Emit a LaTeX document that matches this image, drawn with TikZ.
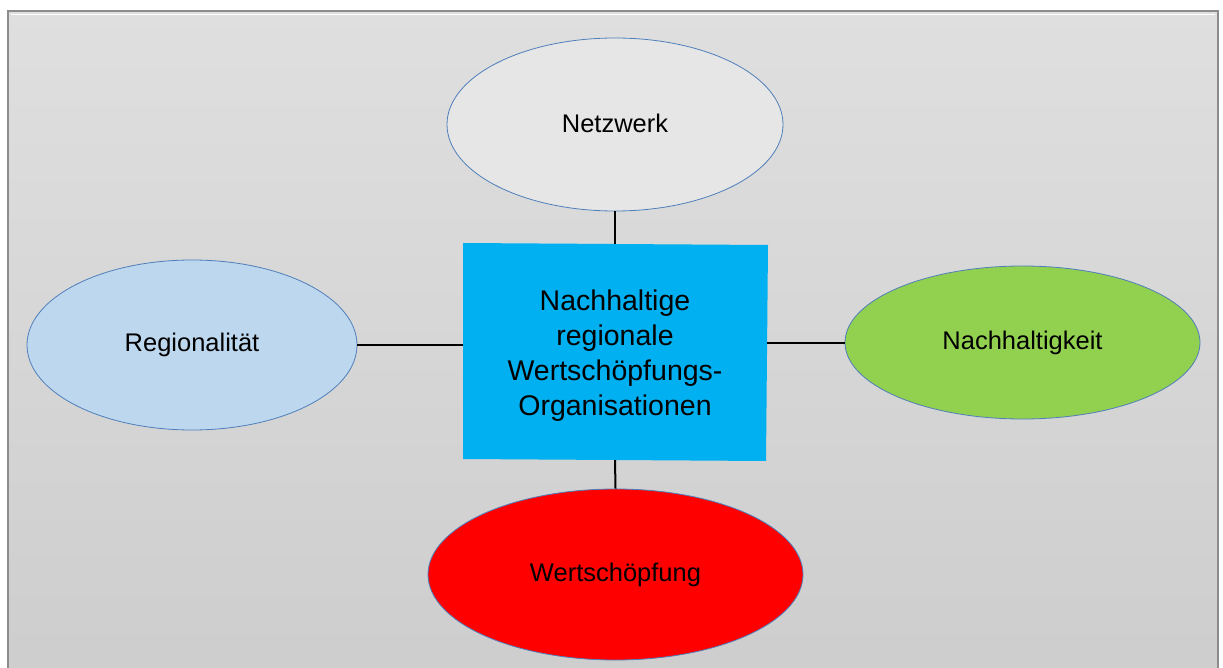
\documentclass[tikz,border=0pt]{standalone}
\usepackage{fontspec}
\setmainfont{Liberation Sans}
\usetikzlibrary{shapes.geometric}
\definecolor{frameline}{HTML}{8C8C8C}
\definecolor{bgtop}{HTML}{DFDFDF}
\definecolor{bgbottom}{HTML}{CDCDCD}
\definecolor{ellline}{HTML}{4F7FBA}
\definecolor{grayfill}{HTML}{E6E6E6}
\definecolor{bluefill}{HTML}{BDD7EE}
\definecolor{greenfill}{HTML}{92D050}
\definecolor{redfill}{HTML}{FF0000}
\definecolor{centerfill}{HTML}{00B0F0}
\tikzset{
  topic/.style={ellipse, draw=ellline, line width=0.8pt, inner sep=0pt,
    font=\fontsize{25.5}{30}\selectfont, text=black},
  link/.style={draw=black, line width=2pt},
}
\begin{document}
\begin{tikzpicture}[x=1pt,y=-1pt]
\useasboundingbox (0,0) rectangle (1223,668);
% panel background with frame
\fill[white] (0,0) rectangle (1223,668);
\shade[top color=bgtop, bottom color=bgbottom] (8,11) rectangle (1218,690);
\draw[frameline, line width=2pt] (8,690) -- (8,11) -- (1218,11) -- (1218,690);
\draw[white, line width=1.5pt] (11,14.5) -- (1215,14.5);

% centre block
\fill[centerfill] (463,243) -- (768,245) -- (766,461) -- (463,459) -- cycle;
\node[minimum width=303pt, minimum height=216pt, inner sep=0pt] (center) at (615,352) {};
\node[align=center, font=\fontsize{28.5}{35}\selectfont, inner sep=0pt]
  (centertext) at (615,356) {Nachhaltige\\regionale\\Wertschöpfungs-\\Organisationen};

% surrounding topics
\node[topic, fill=grayfill, minimum width=336pt, minimum height=173pt, text depth=0pt] (netz) at (615,124.5) {\raisebox{2pt}{Netzwerk}};
\node[topic, fill=bluefill, minimum width=330pt, minimum height=170pt] (reg) at (192,345) {\raisebox{-2pt}{Regionalität}};
\node[topic, fill=greenfill, minimum width=355pt, minimum height=153pt] (nach) at (1022.5,342.5) {\raisebox{-2pt}{Nachhaltigkeit}};
\node[topic, fill=redfill, minimum width=375pt, minimum height=171pt] (wert) at (615.5,574.5) {Wertschöpfung};

% connectors
\draw[link] (netz.south) -- (center.north);
\draw[link] (center.south) -- (wert.north);
\draw[link] (reg.east) -- (reg.east -| center.west);
\draw[link] (center.east |- nach.west) -- (nach.west);
\end{tikzpicture}
\end{document}
